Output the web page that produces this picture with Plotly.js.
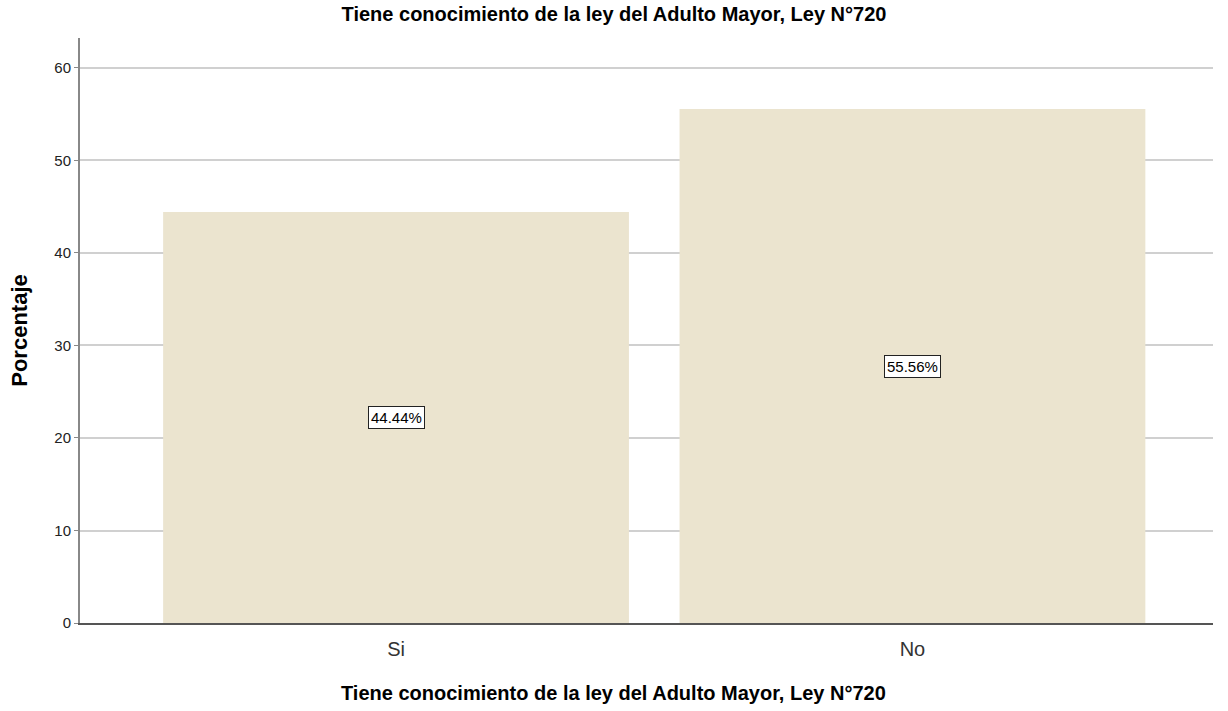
<!DOCTYPE html>
<html>
<head>
<meta charset="utf-8">
<script src="https://cdn.plot.ly/plotly-3.0.1.min.js"></script>
<style>html,body{margin:0;padding:0;background:#fff;}#chart{width:1228px;height:711px;}</style>
</head>
<body>
<div id="chart"></div>
<script>
var categories = ["Si", "No"];
var percentages = [44.44, 55.56];
var yTicks = [0, 10, 20, 30, 40, 50, 60];
var chartTitle = "Tiene conocimiento de la ley del Adulto Mayor, Ley N°720";
var yTitle = "Porcentaje";

var FONT = "Arial, Liberation Sans, sans-serif";

var trace = {
  type: "bar",
  x: categories,
  y: percentages,
  width: 0.902,
  marker: {color: "#ebe4cf", line: {width: 0}},
  hoverinfo: "none"
};

var annotations = categories.map(function(c, i) {
  return {
    x: c, y: percentages[i] / 2, xref: "x", yref: "y",
    text: percentages[i].toFixed(2) + "%",
    showarrow: false,
    bgcolor: "#ffffff",
    bordercolor: "#222222",
    borderwidth: 1,
    borderpad: 2,
    font: {family: FONT, size: 15, color: "#000"}
  };
});

annotations.push({
  xref: "paper", yref: "paper", x: 0.471, y: -0.1197,
  xanchor: "center", yanchor: "middle",
  text: "<b>" + chartTitle + "</b>",
  showarrow: false,
  font: {family: FONT, size: 20, color: "#000"}
});

var layout = {
  width: 1228, height: 711,
  margin: {l: 80, r: 15, t: 38, b: 88},
  paper_bgcolor: "#ffffff",
  plot_bgcolor: "#ffffff",
  showlegend: false,
  title: {text: "<b>" + chartTitle + "</b>", x: 0.5, xanchor: "center", y: 0.980, yanchor: "middle",
          font: {family: FONT, size: 20, color: "#000"}},
  xaxis: {
    type: "category",
    range: [-0.612, 1.582],
    showgrid: false,
    zeroline: false,
    showline: true, linecolor: "#555555", linewidth: 2,
    ticks: "",
    ticklabelstandoff: 7,
    tickfont: {family: FONT, size: 20, color: "#333"}
  },
  yaxis: {
    range: [0, 63.24],
    tickvals: yTicks,
    showgrid: true, gridcolor: "#d0d0d0", gridwidth: 2,
    zeroline: false,
    showline: true, linecolor: "#888888", linewidth: 2,
    ticks: "outside", ticklen: 4, tickcolor: "#888888",
    tickfont: {family: FONT, size: 15, color: "#222"},
    title: {text: "<b>" + yTitle + "</b>", standoff: 21,
            font: {family: FONT, size: 22, color: "#000"}}
  },
  annotations: annotations
};

Plotly.newPlot("chart", [trace], layout, {displayModeBar: false, staticPlot: true});
</script>
</body>
</html>
